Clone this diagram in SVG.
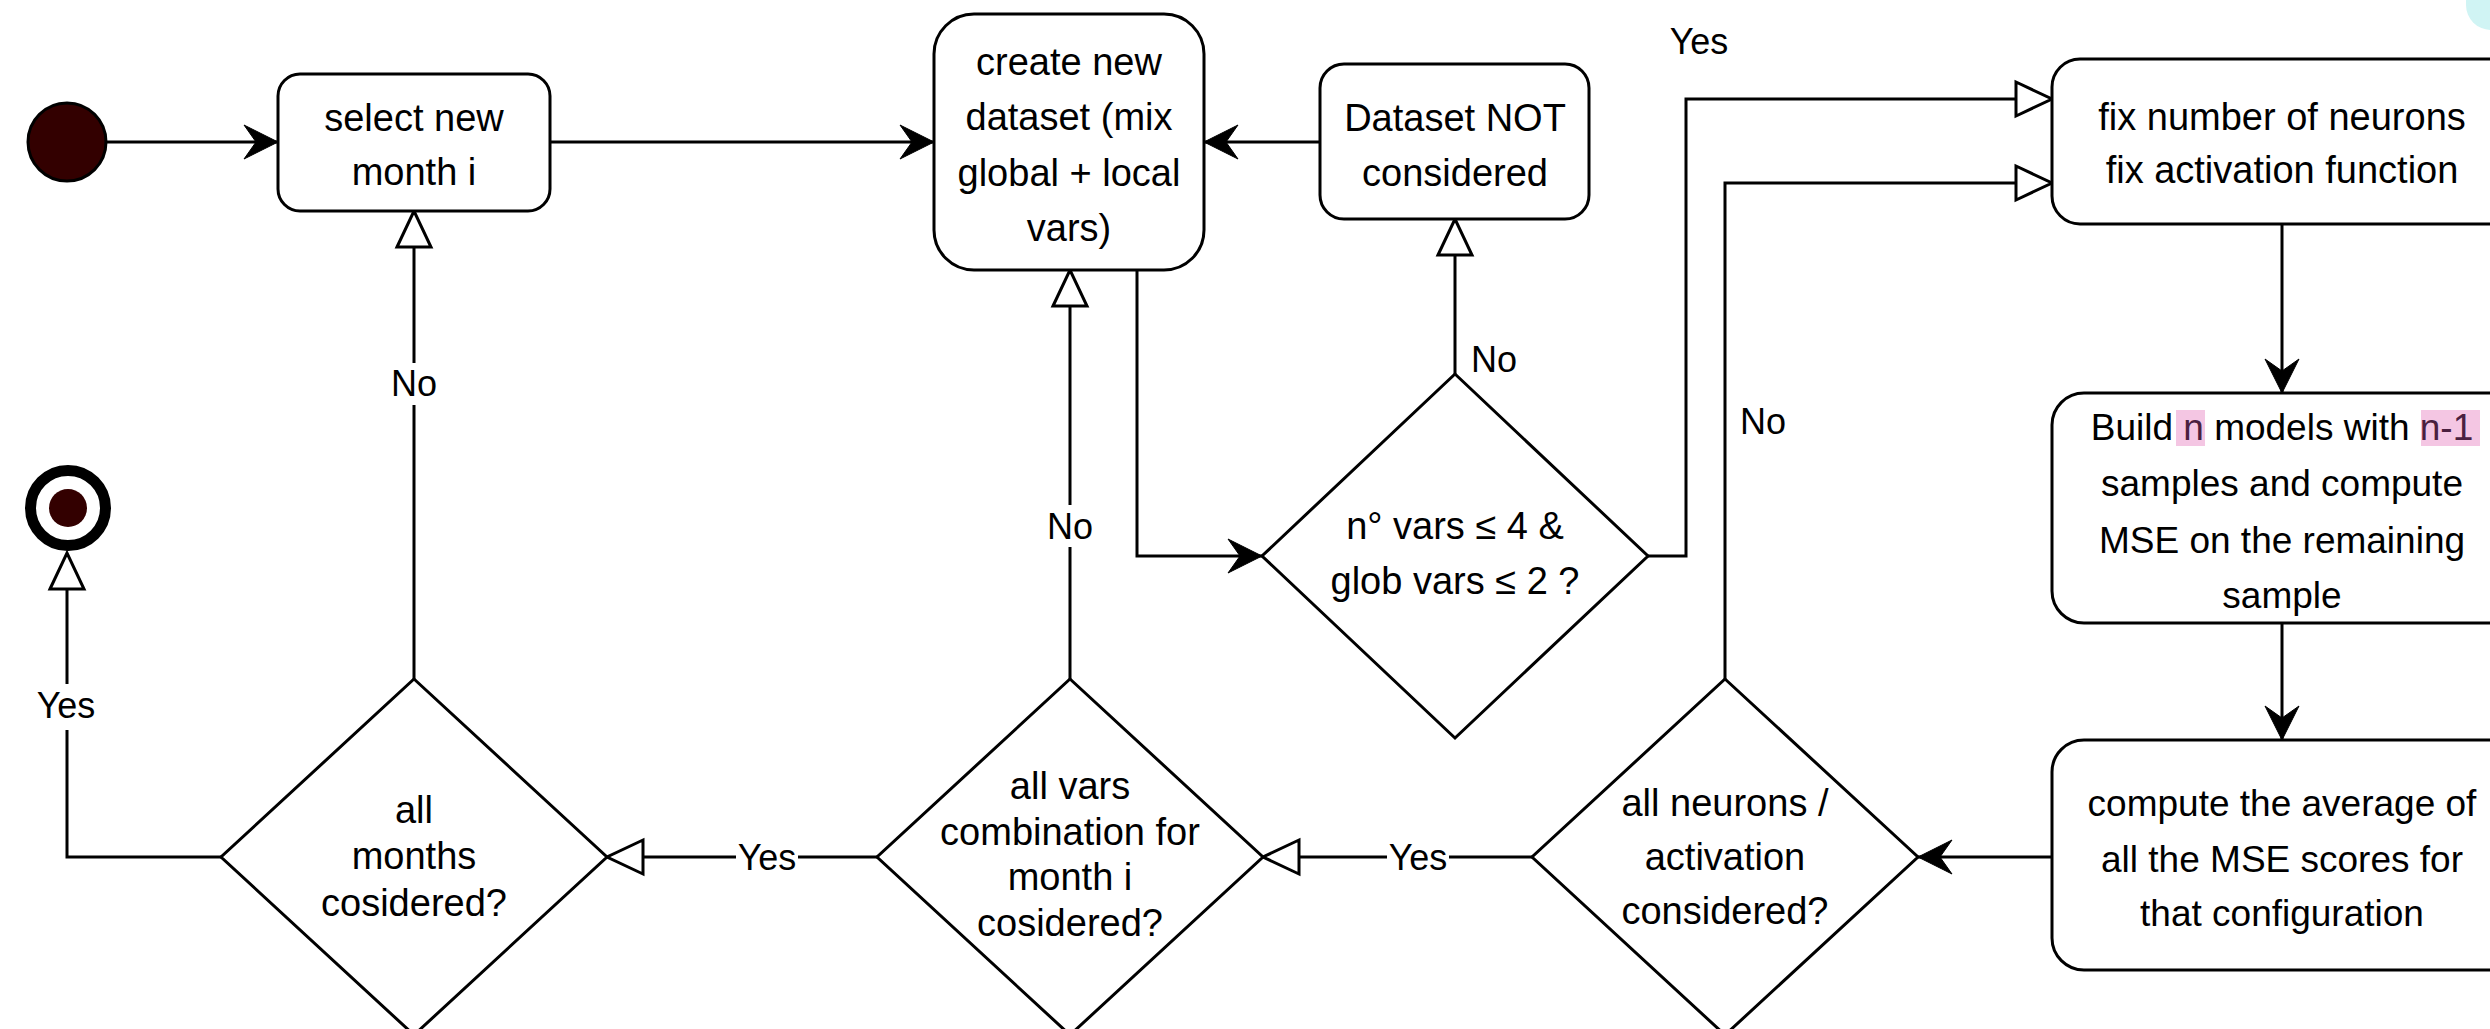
<svg xmlns="http://www.w3.org/2000/svg" width="2490" height="1029" viewBox="0 0 2490 1029">
  <style>
    .box { fill: #ffffff; stroke: #000000; stroke-width: 3; }
    .dia { fill: #ffffff; stroke: #000000; stroke-width: 3; }
    .edge { fill: none; stroke: #000000; stroke-width: 3; }
    .t { font-family: 'Liberation Sans', Arial, Helvetica, sans-serif; font-size: 38px; fill: #000000; text-anchor: middle; }
    .tb { font-family: 'Liberation Sans', Arial, Helvetica, sans-serif; font-size: 37px; fill: #000000; text-anchor: middle; }
    .lbl { font-family: 'Liberation Sans', Arial, Helvetica, sans-serif; font-size: 36px; fill: #000000; text-anchor: middle; }
    .lblbg { fill: #ffffff; stroke: none; }
    .hl { fill: #f4c6e3; }
    .hlt { fill: #4a2040; }
  </style>
  <defs>
    <!-- filled "classic" arrowhead: tip sits on the path end -->
    <marker id="filled" viewBox="-36 -20 40 40" refX="0" refY="0" markerWidth="40" markerHeight="40" markerUnits="userSpaceOnUse" orient="auto">
      <path d="M0,0 L-34,-17 L-22,0 L-34,17 Z" fill="#000000" stroke="#000000" stroke-width="1"/>
    </marker>
    <!-- hollow triangle: base on the path end, tip 36px further on -->
    <marker id="hollow" viewBox="-3 -20 42 40" refX="0" refY="0" markerWidth="42" markerHeight="40" markerUnits="userSpaceOnUse" orient="auto">
      <path d="M0,-17 L36,0 L0,17 Z" fill="#ffffff" stroke="#000000" stroke-width="3" stroke-linejoin="miter"/>
    </marker>
  </defs>

  <rect width="2490" height="1029" fill="#ffffff"/>

  <!-- partly visible shape at the top right corner -->
  <rect x="2466" y="-40" width="80" height="70" rx="25" fill="#d0f4f4"/>

  <!-- connectors -->
  <g id="connectors">
    <path class="edge" d="M107,142 L278,142" marker-end="url(#filled)"/>
    <path class="edge" d="M550,142 L934,142" marker-end="url(#filled)"/>
    <path class="edge" d="M1320,142 L1204,142" marker-end="url(#filled)"/>
    <path class="edge" d="M1137,270 L1137,556 L1262,556" marker-end="url(#filled)"/>
    <path class="edge" d="M1455,374 L1455,255" marker-end="url(#hollow)"/>
    <path class="edge" d="M1648,556 L1686,556 L1686,99 L2016,99" marker-end="url(#hollow)"/>
    <path class="edge" d="M1725,679 L1725,183 L2016,183" marker-end="url(#hollow)"/>
    <path class="edge" d="M2282,224 L2282,393" marker-end="url(#filled)"/>
    <path class="edge" d="M2282,623 L2282,740" marker-end="url(#filled)"/>
    <path class="edge" d="M2052,857 L1918,857" marker-end="url(#filled)"/>
    <path class="edge" d="M1533,857 L1299,857" marker-end="url(#hollow)"/>
    <path class="edge" d="M1070,679 L1070,306" marker-end="url(#hollow)"/>
    <path class="edge" d="M877,857 L643,857" marker-end="url(#hollow)"/>
    <path class="edge" d="M414,679 L414,247" marker-end="url(#hollow)"/>
    <path class="edge" d="M221,857 L67,857 L67,589" marker-end="url(#hollow)"/>

    <!-- edge labels -->
    <text class="lbl" x="1699" y="54">Yes</text>
    <text class="lbl" x="1494" y="372">No</text>
    <text class="lbl" x="1763" y="434">No</text>

    <rect class="lblbg" x="1048" y="505" width="44" height="42"/>
    <text class="lbl" x="1070" y="539">No</text>

    <rect class="lblbg" x="392" y="363" width="44" height="42"/>
    <text class="lbl" x="414" y="396">No</text>

    <rect class="lblbg" x="1387" y="836" width="62" height="42"/>
    <text class="lbl" x="1418" y="870">Yes</text>

    <rect class="lblbg" x="736" y="836" width="62" height="42"/>
    <text class="lbl" x="767" y="870">Yes</text>

    <rect class="lblbg" x="35" y="684" width="64" height="46"/>
    <text class="lbl" x="66" y="718">Yes</text>
  </g>

  <!-- start node -->
  <g id="start">
    <circle cx="67" cy="142" r="39" fill="#330000" stroke="#000000" stroke-width="3"/>
  </g>

  <!-- end node -->
  <g id="end">
    <circle cx="68" cy="508" r="37.5" fill="#ffffff" stroke="#000000" stroke-width="11"/>
    <circle cx="68" cy="508" r="19" fill="#330000"/>
  </g>

  <g id="select-month">
    <rect class="box" x="278" y="74" width="272" height="137" rx="22"/>
    <text class="t" x="414" y="131">select new</text>
    <text class="t" x="414" y="185">month i</text>
  </g>

  <g id="create-dataset">
    <rect class="box" x="934" y="14" width="270" height="256" rx="40"/>
    <text class="t" x="1069" y="75">create new</text>
    <text class="t" x="1069" y="130">dataset (mix</text>
    <text class="t" x="1069" y="186">global + local</text>
    <text class="t" x="1069" y="241">vars)</text>
  </g>

  <g id="dataset-not-considered">
    <rect class="box" x="1320" y="64" width="269" height="155" rx="24"/>
    <text class="t" x="1455" y="131">Dataset NOT</text>
    <text class="t" x="1455" y="186">considered</text>
  </g>

  <g id="check-vars">
    <polygon class="dia" points="1455,374 1648,556 1455,738 1262,556"/>
    <text class="t" x="1455" y="539">n° vars ≤ 4 &amp;</text>
    <text class="t" x="1455" y="594">glob vars ≤ 2 ?</text>
  </g>

  <g id="fix-config">
    <rect class="box" x="2052" y="59" width="470" height="165" rx="28"/>
    <text class="t" x="2282" y="130">fix number of neurons</text>
    <text class="t" x="2282" y="183">fix activation function</text>
  </g>

  <g id="build-models">
    <rect class="box" x="2052" y="393" width="470" height="230" rx="32"/>
    <rect class="hl" x="2176" y="410" width="29" height="36"/>
    <rect class="hl" x="2421" y="410" width="59" height="36"/>
    <text class="tb" x="2282" y="440">Build <tspan class="hlt">n</tspan> models with <tspan class="hlt">n-1</tspan></text>
    <text class="tb" x="2282" y="496">samples and compute</text>
    <text class="tb" x="2282" y="553">MSE on the remaining</text>
    <text class="tb" x="2282" y="608">sample</text>
  </g>

  <g id="average-mse">
    <rect class="box" x="2052" y="740" width="470" height="230" rx="32"/>
    <text class="tb" x="2282" y="816">compute the average of</text>
    <text class="tb" x="2282" y="872">all the MSE scores for</text>
    <text class="tb" x="2282" y="926">that configuration</text>
  </g>

  <g id="all-neurons">
    <polygon class="dia" points="1725,679 1918,857 1725,1035 1532,857"/>
    <text class="t" x="1725" y="816">all neurons /</text>
    <text class="t" x="1725" y="870">activation</text>
    <text class="t" x="1725" y="924">considered?</text>
  </g>

  <g id="all-vars">
    <polygon class="dia" points="1070,679 1263,857 1070,1035 877,857"/>
    <text class="t" x="1070" y="799">all vars</text>
    <text class="t" x="1070" y="845">combination for</text>
    <text class="t" x="1070" y="890">month i</text>
    <text class="t" x="1070" y="936">cosidered?</text>
  </g>

  <g id="all-months">
    <polygon class="dia" points="414,679 607,857 414,1035 221,857"/>
    <text class="t" x="414" y="823">all</text>
    <text class="t" x="414" y="869">months</text>
    <text class="t" x="414" y="916">cosidered?</text>
  </g>
</svg>
